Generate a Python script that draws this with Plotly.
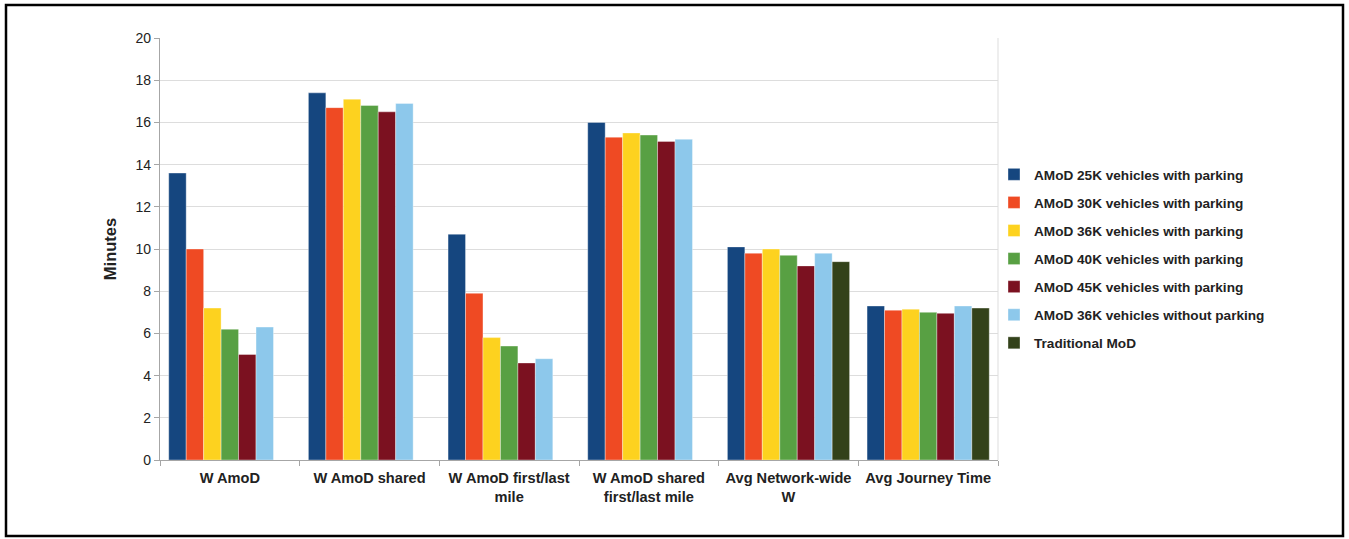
import plotly.graph_objects as go

categories = [
    "W AmoD",
    "W AmoD shared",
    "W AmoD first/last<br>mile",
    "W AmoD shared<br>first/last mile",
    "Avg Network-wide<br>W",
    "Avg Journey Time",
]

series_names = [
    "AMoD 25K vehicles with parking",
    "AMoD 30K vehicles with parking",
    "AMoD 36K vehicles with parking",
    "AMoD 40K vehicles with parking",
    "AMoD 45K vehicles with parking",
    "AMoD 36K vehicles without parking",
    "Traditional MoD",
]

amod_25k = [13.6, 17.4, 10.7, 16.0, 10.1, 7.3]
amod_30k = [10.0, 16.7, 7.9, 15.3, 9.8, 7.1]
amod_36k = [7.2, 17.1, 5.8, 15.5, 10.0, 7.15]
amod_40k = [6.2, 16.8, 5.4, 15.4, 9.7, 7.0]
amod_45k = [5.0, 16.5, 4.6, 15.1, 9.2, 6.95]
amod_36k_no_parking = [6.3, 16.9, 4.8, 15.2, 9.8, 7.3]
traditional_mod = [None, None, None, None, 9.4, 7.2]

series_values = [amod_25k, amod_30k, amod_36k, amod_40k, amod_45k,
                 amod_36k_no_parking, traditional_mod]

colors = ["#15467F", "#EF4A23", "#FDD21F", "#58A043", "#7B1120",
          "#8DC8EB", "#33421A"]

y_ticks = [0, 2, 4, 6, 8, 10, 12, 14, 16, 18, 20]

fig = go.Figure()
for i, (name, vals, col) in enumerate(zip(series_names, series_values, colors)):
    fig.add_trace(go.Bar(
        name=name,
        x=categories,
        y=vals,
        marker=dict(color=col, line=dict(color="rgba(255,255,255,0.6)", width=0.6)),
        legendgroup=f"g{i}",
    ))

W, H = 1349, 539
left, right, top, bottom = 160, 998, 38, 460

def px_x(p):
    return (p - left) / (right - left)

def px_y(p):
    return (bottom - p) / (bottom - top)

font_family = "Liberation Sans, Arial, sans-serif"

fig.update_layout(
    width=W,
    height=H,
    barmode="group",
    bargap=0.125,
    bargroupgap=0,
    paper_bgcolor="white",
    plot_bgcolor="white",
    margin=dict(l=left, r=W - right, t=top, b=H - bottom, pad=0),
    font=dict(family=font_family, color="#222222"),
    showlegend=True,
    legend=dict(
        x=px_x(994),
        y=px_y(159),
        xanchor="left",
        yanchor="top",
        font=dict(size=13.6, family=font_family, color="#222222", weight="bold"),
        tracegroupgap=7.4,
        itemwidth=30,
        bgcolor="rgba(0,0,0,0)",
    ),
    xaxis=dict(
        showline=True,
        linecolor="#A6A6A6",
        linewidth=1.2,
        ticks="outside",
        tickson="boundaries",
        ticklen=5,
        tickcolor="#A6A6A6",
        ticklabelstandoff=4,
        tickfont=dict(size=14.6, family=font_family, color="#222222", weight="bold"),
        showgrid=False,
    ),
    yaxis=dict(
        range=[0, 20],
        tickvals=y_ticks,
        showline=True,
        linecolor="#A6A6A6",
        linewidth=1.2,
        ticks="outside",
        ticklen=5,
        tickcolor="#A6A6A6",
        tickfont=dict(size=14, family=font_family, color="#222222"),
        showgrid=True,
        gridcolor="#DDDDDD",
        gridwidth=1,
        zeroline=False,
        title=dict(text="<b>Minutes</b>", font=dict(size=16.5, family=font_family, color="#222222"), standoff=14),
    ),
    shapes=[
        # right edge of the plotting area
        dict(type="line", xref="paper", yref="paper", x0=1, x1=1, y0=0, y1=1,
             line=dict(color="#DDDDDD", width=1), layer="below"),
        # outer frame around the whole chart
        dict(type="rect", xref="paper", yref="paper",
             x0=px_x(6), x1=px_x(1343), y0=px_y(536), y1=px_y(5),
             line=dict(color="black", width=2.5), fillcolor="rgba(0,0,0,0)",
             layer="above"),
    ],
)

fig.write_html("out.html")
